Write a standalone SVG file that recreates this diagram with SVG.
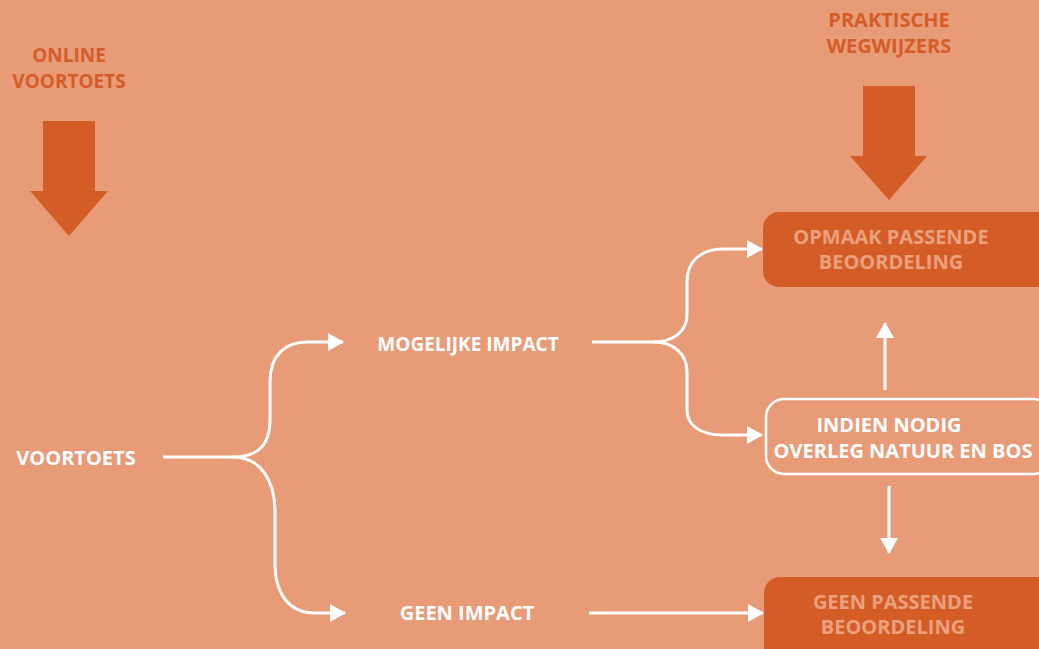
<svg xmlns="http://www.w3.org/2000/svg" width="1039" height="649" viewBox="0 0 1039 649">
<defs>
<style>
.t{font-family:"Open Sans","Liberation Sans",sans-serif;font-weight:700;font-size:20px;text-anchor:middle}
.s{font-size:19px}
.w{fill:#ffffff}
.o{fill:#D45D27}
.l{fill:#EBA17E}
.c{fill:none;stroke:#ffffff;stroke-width:3}
.dark{fill:#D45D27}
</style>
<marker id="ah" viewBox="0 0 16 18" refX="15" refY="9" markerWidth="16" markerHeight="18" markerUnits="userSpaceOnUse" orient="auto">
<path d="M0,0 L16,9 L0,18 Z" fill="#ffffff"/>
</marker>
</defs>
<rect width="1039" height="649" fill="#E89B77"/>

<g id="online-voortoets">
<text class="t s o" x="69" y="62">ONLINE</text>
<text class="t s o" x="69" y="88">VOORTOETS</text>
<path class="dark" d="M43,121 H95 V191 H108 L69,236 L30,191 H43 Z"/>
</g>

<g id="praktische-wegwijzers">
<text class="t o" x="889" y="27">PRAKTISCHE</text>
<text class="t o" x="889" y="53">WEGWIJZERS</text>
<path class="dark" d="M863,86 H915 V156 H927 L889,200 L850,156 H863 Z"/>
</g>

<g id="voortoets">
<text class="t w" x="76" y="465">VOORTOETS</text>
</g>

<g id="mogelijke-impact">
<text class="t w" x="468" y="351" style="font-size:19px">MOGELIJKE IMPACT</text>
</g>

<g id="geen-impact">
<text class="t w" x="467" y="620">GEEN IMPACT</text>
</g>

<g id="opmaak-passende-beoordeling">
<rect class="dark" x="763" y="212" width="290" height="75" rx="16"/>
<text class="t l" x="891" y="244">OPMAAK PASSENDE</text>
<text class="t l" x="891" y="269">BEOORDELING</text>
</g>

<g id="indien-nodig">
<rect x="766" y="399" width="285" height="75" rx="18" fill="none" stroke="#ffffff" stroke-width="2.5"/>
<text class="t w" x="889" y="432">INDIEN NODIG</text>
<text class="t w" x="903" y="458">OVERLEG NATUUR EN BOS</text>
</g>

<g id="geen-passende-beoordeling">
<rect class="dark" x="764" y="577" width="290" height="90" rx="16"/>
<text class="t l" x="893" y="609">GEEN PASSENDE</text>
<text class="t l" x="893" y="634">BEOORDELING</text>
</g>

<g id="connectors">
<path class="c" d="M163,457 H233 C258,457 270,445 270,420 V382 C270,355 285,342 308,342 H343" marker-end="url(#ah)"/>
<path class="c" d="M233,457 C260,457 275,480 275,512 V563 C275,595 290,613 315,613 H345" marker-end="url(#ah)"/>
<path class="c" d="M592,342 H653 C675,342 687,330 687,315 V282 C687,262 700,249 723,249 H762" marker-end="url(#ah)"/>
<path class="c" d="M653,342 C675,342 687,355 687,372 V410 C687,425 700,435 723,435 H762" marker-end="url(#ah)"/>
<path class="c" d="M589,613 H763" marker-end="url(#ah)"/>
<path class="c" d="M885,390 V323" marker-end="url(#ah)"/>
<path class="c" d="M889,486 V553" marker-end="url(#ah)"/>
</g>
</svg>
